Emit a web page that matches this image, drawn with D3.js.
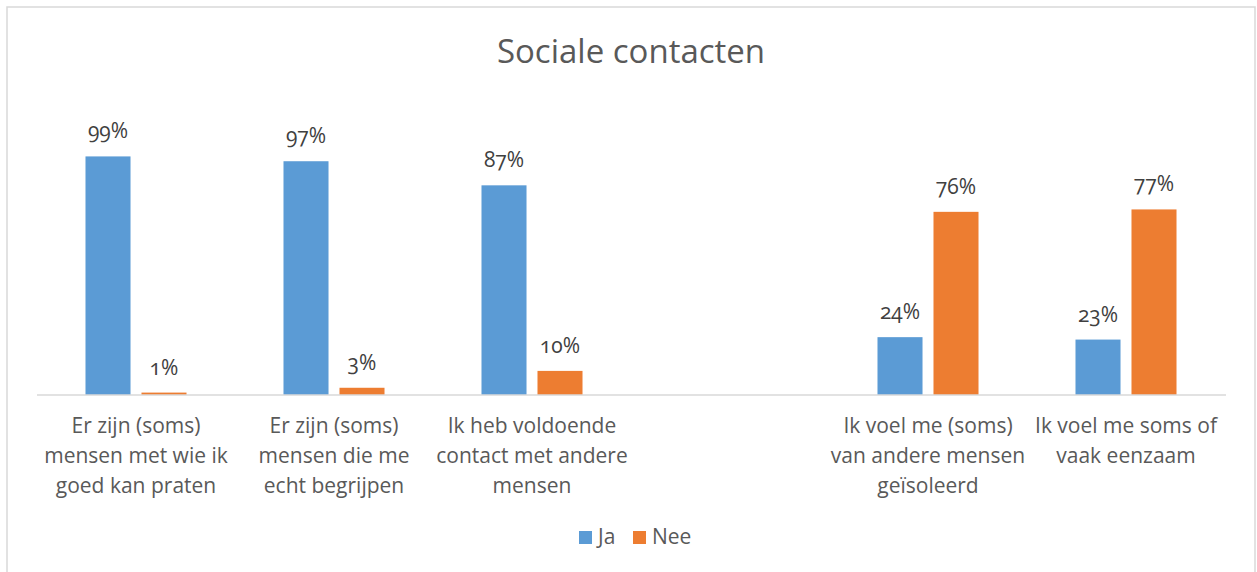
<!DOCTYPE html>
<html>
<head>
<meta charset="utf-8">
<script src="https://cdn.jsdelivr.net/npm/d3@7"></script>
<style>
  body { margin: 0; background: #fff; }
  svg { display: block; font-family: 'Open Sans', 'Noto Sans', sans-serif; font-variant-numeric: oldstyle-nums; }
</style>
</head>
<body>
<svg id="chart"></svg>
<script>
// Data
const categories = [
  ['Er zijn (soms)', 'mensen met wie ik', 'goed kan praten'],
  ['Er zijn (soms)', 'mensen die me', 'echt begrijpen'],
  ['Ik heb voldoende', 'contact met andere', 'mensen'],
  [],
  ['Ik voel me (soms)', 'van andere mensen', 'geïsoleerd'],
  ['Ik voel me soms of', 'vaak eenzaam']
];
const series = ['Ja', 'Nee'];
const jaValues = [99, 97, 87, null, 24, 23];
const neeValues = [1, 3, 10, null, 76, 77];
const colors = ['#5B9BD5', '#ED7D31'];

const width = 1257;
const height = 572;

const svg = d3.select('#chart')
  .attr('width', width)
  .attr('height', height);

// Chart border
svg.append('rect')
  .attr('x', 7).attr('y', 7)
  .attr('width', 1248).attr('height', 640)
  .attr('fill', 'none')
  .attr('stroke', '#d9d9d9')
  .attr('stroke-width', 1.5);

// Title
svg.append('text')
  .attr('x', 631).attr('y', 63)
  .attr('text-anchor', 'middle')
  .attr('font-size', 33)
  .attr('fill', '#595959')
  .text('Sociale contacten');

// Scales
const idx = d3.range(categories.length);
const x0 = d3.scaleBand().domain(idx).range([37, 1225]);
const x1 = d3.scaleBand().domain(series)
  .range([0, x0.bandwidth()])
  .paddingInner(0.196)
  .paddingOuter(0.866);
const y = d3.scaleLinear().domain([0, 100]).range([395, 154]);

const rows = idx.map(i => ({ i, values: [jaValues[i], neeValues[i]] }));

const groups = svg.selectAll('g.cat')
  .data(rows)
  .enter().append('g')
  .attr('class', 'cat')
  .attr('transform', d => `translate(${x0(d.i)},0)`);

const bars = groups.selectAll('g.bar')
  .data(d => d.values.map((v, k) => ({ key: series[k], v, k })).filter(e => e.v != null))
  .enter().append('g').attr('class', 'bar');

bars.append('rect')
  .attr('x', d => x1(d.key))
  .attr('y', d => y(d.v))
  .attr('width', x1.bandwidth())
  .attr('height', d => y(0) - y(d.v))
  .attr('fill', d => colors[d.k]);

// Value labels
bars.append('text')
  .attr('x', d => x1(d.key) + x1.bandwidth() / 2)
  .attr('y', d => y(d.v) - 18)
  .attr('text-anchor', 'middle')
  .attr('font-size', 21)
  .attr('fill', '#404040')
  .text(d => d.v + '%');

// Axis line
svg.append('line')
  .attr('x1', 37).attr('x2', 1226)
  .attr('y1', 395).attr('y2', 395)
  .attr('stroke', '#d9d9d9')
  .attr('stroke-width', 1.5);

// Category labels
const labels = svg.selectAll('text.cat-label')
  .data(rows)
  .enter().append('text')
  .attr('class', 'cat-label')
  .attr('text-anchor', 'middle')
  .attr('font-size', 21)
  .attr('fill', '#595959');

labels.selectAll('tspan')
  .data(d => categories[d.i].map(line => ({ line, i: d.i })))
  .enter().append('tspan')
  .attr('x', d => x0(d.i) + x0.bandwidth() / 2)
  .attr('y', (d, j) => 433 + j * 30)
  .text(d => d.line);

// Legend
const legend = svg.append('g').attr('transform', 'translate(579,531)');
const legendX = [0, 54];
series.forEach((s, k) => {
  const item = legend.append('g').attr('transform', `translate(${legendX[k]},0)`);
  item.append('rect').attr('width', 13).attr('height', 13).attr('fill', colors[k]);
  item.append('text')
    .attr('x', 19).attr('y', 13)
    .attr('font-size', 21)
    .attr('fill', '#595959')
    .text(s);
});
</script>
</body>
</html>
